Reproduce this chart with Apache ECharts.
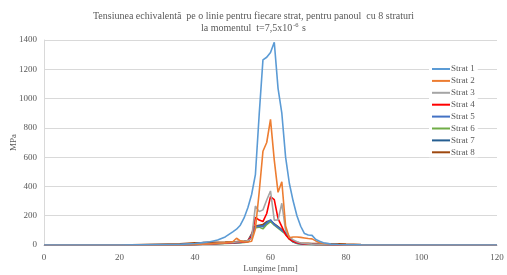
<!DOCTYPE html>
<html>
<head>
<meta charset="utf-8">
<script src="https://cdn.jsdelivr.net/npm/echarts@6/dist/echarts.min.js"></script>
<style>
  html, body { margin: 0; padding: 0; background: #fff; }
  #chart { width: 507px; height: 275px; }
</style>
</head>
<body>
<div id="chart"></div>
<script>
// lungime [mm]
const xPos = [0, 20, 36, 40, 42, 44, 46, 48, 50, 51, 52, 53, 54, 55, 56, 57, 58, 59, 60, 61, 62, 63, 64, 65, 66, 67, 68, 69, 70, 71, 72, 73, 74, 76, 78, 80, 84, 90, 120];

// tensiunea echivalenta [MPa] pe fiecare strat
const strat1 = [0, 0, 4, 10, 16, 22, 34, 55, 90, 108, 135, 185, 255, 345, 480, 890, 1264, 1282, 1315, 1385, 1070, 900, 600, 420, 300, 200, 128, 78, 68, 66, 38, 25, 15, 6, 3, 2, 1, 0, 0];
const strat2 = [0, 0, 2, 5, 7, 9, 12, 15, 22, 46, 28, 22, 20, 25, 110, 360, 640, 700, 858, 580, 360, 432, 130, 50, 55, 55, 52, 48, 44, 42, 28, 16, 10, 5, 3, 2, 1, 0, 0];
const strat3 = [0, 0, 2, 5, 7, 9, 12, 15, 18, 20, 22, 25, 28, 45, 266, 228, 240, 307, 369, 170, 171, 285, 100, 55, 35, 22, 14, 10, 8, 6, 5, 4, 3, 2, 2, 1, 1, 0, 0];
const strat4 = [0, 0, 2, 4, 6, 8, 10, 12, 15, 17, 19, 21, 25, 60, 189, 170, 160, 215, 330, 310, 180, 125, 70, 40, 25, 15, 10, 8, 6, 5, 4, 3, 3, 2, 1, 1, 0, 0, 0];
const strat5 = [0, 0, 2, 4, 6, 8, 10, 12, 14, 16, 18, 20, 25, 70, 125, 128, 125, 150, 172, 140, 120, 100, 80, 45, 22, 12, 8, 6, 5, 4, 3, 3, 2, 2, 1, 1, 0, 0, 0];
const strat6 = [0, 0, 1, 3, 5, 7, 9, 11, 13, 15, 16, 18, 20, 60, 118, 122, 110, 140, 160, 135, 115, 95, 75, 40, 20, 11, 7, 5, 4, 3, 3, 2, 2, 1, 1, 1, 0, 0, 0];
const strat7 = [0, 0, 2, 4, 6, 8, 10, 12, 14, 16, 18, 20, 22, 65, 128, 130, 130, 155, 168, 142, 122, 102, 82, 48, 24, 13, 9, 7, 6, 5, 4, 4, 3, 2, 2, 1, 0, 0, 0];
const strat8 = [0, 0, 8, 15, 16, 18, 19, 20, 22, 23, 25, 27, 30, 75, 130, 135, 140, 160, 165, 145, 125, 105, 85, 52, 28, 18, 14, 12, 11, 10, 10, 10, 10, 9, 8, 6, 3, 0, 0];

const names = ['Strat 1', 'Strat 2', 'Strat 3', 'Strat 4', 'Strat 5', 'Strat 6', 'Strat 7', 'Strat 8'];
const values = [strat1, strat2, strat3, strat4, strat5, strat6, strat7, strat8];
const colors = ['#5B9BD5', '#ED7D31', '#A5A5A5', '#FF0000', '#4472C4', '#70AD47', '#255E91', '#9E480E'];

const font = 'Liberation Serif';
const txt = '#595959';

const chart = echarts.init(document.getElementById('chart'));

const series = names.map((n, i) => ({
  name: n,
  type: 'line',
  data: xPos.map((x, j) => [x, values[i][j]]),
  symbol: 'none',
  lineStyle: { width: 1.6, color: colors[i] },
  itemStyle: { color: colors[i] },
  z: 10 - i
}));

chart.setOption({
  animation: false,
  color: colors,
  title: {
    text: 'Tensiunea echivalentă  pe o linie pentru fiecare strat, pentru panoul  cu 8 straturi\n{n|la momentul  t=7,5x10}{sup|-6}{n| s}',
    left: 'center',
    top: 5,
    textStyle: {
      fontFamily: font,
      fontSize: 10,
      fontWeight: 'normal',
      color: txt,
      lineHeight: 12,
      rich: {
        n: { fontFamily: font, fontSize: 10, color: txt },
        sup: { fontFamily: font, fontSize: 6.5, color: txt, verticalAlign: 'top', padding: [0, 1, 5, 1] }
      }
    }
  },
  grid: { left: 44, right: 10, top: 40, bottom: 30, containLabel: false, outerBoundsMode: 'none' },
  legend: {
    orient: 'vertical',
    left: 429,
    top: 64,
    icon: 'rect',
    itemWidth: 18,
    itemHeight: 2,
    itemGap: 1.9,
    padding: [0, 3, 0, 3],
    backgroundColor: '#fff',
    textStyle: { fontFamily: font, fontSize: 9, lineHeight: 10, color: txt, padding: [0, 0, 0, -4] },
    data: names
  },
  xAxis: {
    type: 'value',
    min: 0,
    max: 120,
    interval: 20,
    name: 'Lungime [mm]',
    nameLocation: 'middle',
    nameGap: 19,
    nameMoveOverlap: false,
    nameTextStyle: { fontFamily: font, fontSize: 9, color: txt },
    axisLine: { lineStyle: { color: '#BFBFBF' } },
    axisTick: { show: false },
    splitLine: { show: false },
    axisLabel: { fontFamily: font, fontSize: 9, color: txt, margin: 8 }
  },
  yAxis: {
    type: 'value',
    min: 0,
    max: 1400,
    interval: 200,
    name: 'MPa',
    nameLocation: 'middle',
    nameGap: 26,
    nameMoveOverlap: false,
    nameTextStyle: { fontFamily: font, fontSize: 9, color: txt },
    axisLine: { show: true, lineStyle: { color: '#D9D9D9' } },
    axisTick: { show: false },
    splitLine: { lineStyle: { color: '#D9D9D9' } },
    axisLabel: { fontFamily: font, fontSize: 9, color: txt, margin: 7, formatter: v => String(v) }
  },
  series: series
});
</script>
</body>
</html>
